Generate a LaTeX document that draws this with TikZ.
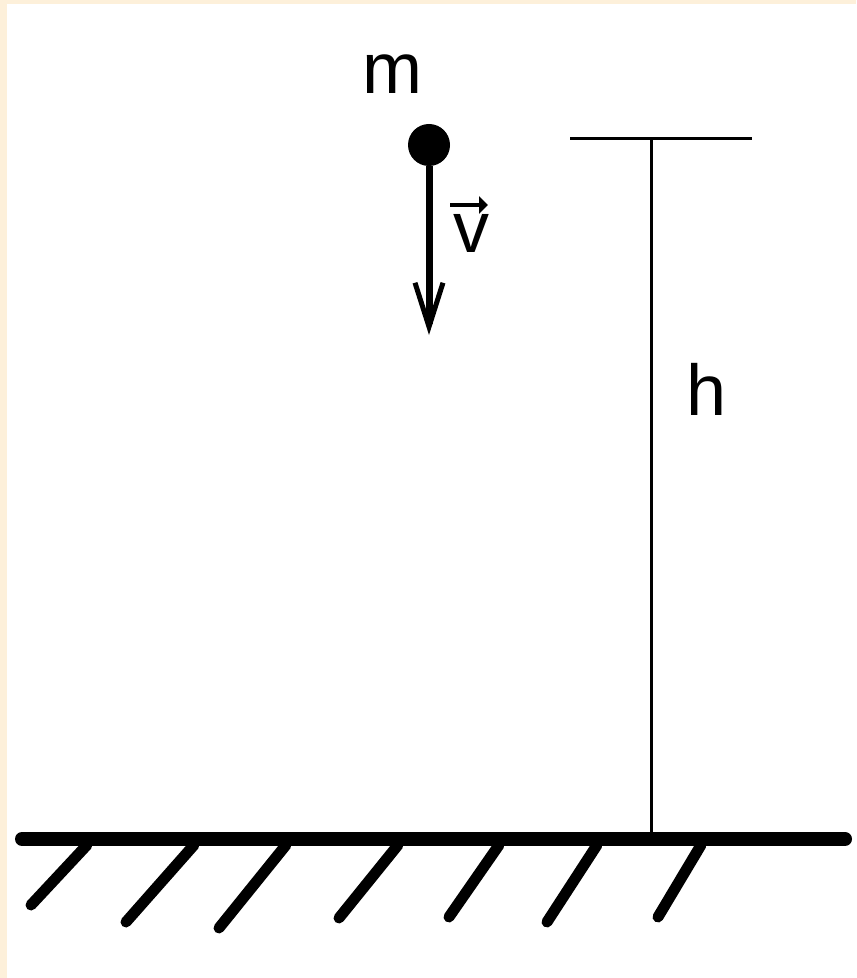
\documentclass[tikz,border=0pt]{standalone}
\usepackage{fontspec}
\setmainfont{Liberation Sans}
\usetikzlibrary{arrows.meta}
\definecolor{beige}{RGB}{253,240,218}
\tikzset{
  ground/.style={line width=7pt, line cap=round},
  hatch/.style={line width=5.5pt, line cap=round},
  thinline/.style={line width=1.5pt},
  label/.style={font=\fontsize{36}{40}\selectfont, anchor=base, inner sep=0pt},
}
\begin{document}
\begin{tikzpicture}[x=0.5pt, y=-0.5pt]
\useasboundingbox (0,0) rectangle (856,978);
\fill[beige] (0,0) rectangle (856,978);
\fill[white] (7,4) rectangle (856,978);
% ground
\coordinate (gl) at (22,839);
\coordinate (gr) at (845,839);
\draw[ground] (gl) -- (gr);
\foreach \a/\b/\c/\d [count=\i] in {87/845/31/905, 194/845/126/922, 286/845/219/928, 398/845/339/918, 499/845/449/917, 597/845/547/922, 701/845/658/917}{
  \coordinate (ht\i) at (\a,\b);
  \coordinate (hb\i) at (\c,\d);
  \draw[hatch] (ht\i) -- (hb\i);
}
% height marker
\coordinate (hl) at (570,139);
\coordinate (hr) at (752,139);
\coordinate (hm) at (651,139);
\coordinate (hg) at (651,839);
\draw[thinline] (hl) -- (hr);
\draw[thinline] (hm) -- (hg);
\node[label] (hlab) at (707,415) {h};
% mass
\node[circle, fill=black, minimum size=21pt, inner sep=0pt] (ball) at (429,145) {};
\node[label] (mlab) at (392,94) {m};
\coordinate (vend) at (429,335);
\draw[line width=3.5pt, -{Straight Barb[length=22pt, width=14pt, line width=2.5pt]}] (ball.south) -- (vend);
\node[label] (vlab) at (471,253) {v};
\coordinate (va) at (450,205);
\coordinate (vb) at (488,205);
\draw[line width=2pt, -{Triangle[length=4.5pt, width=8.5pt]}] (va) -- (vb);
\end{tikzpicture}
\end{document}
